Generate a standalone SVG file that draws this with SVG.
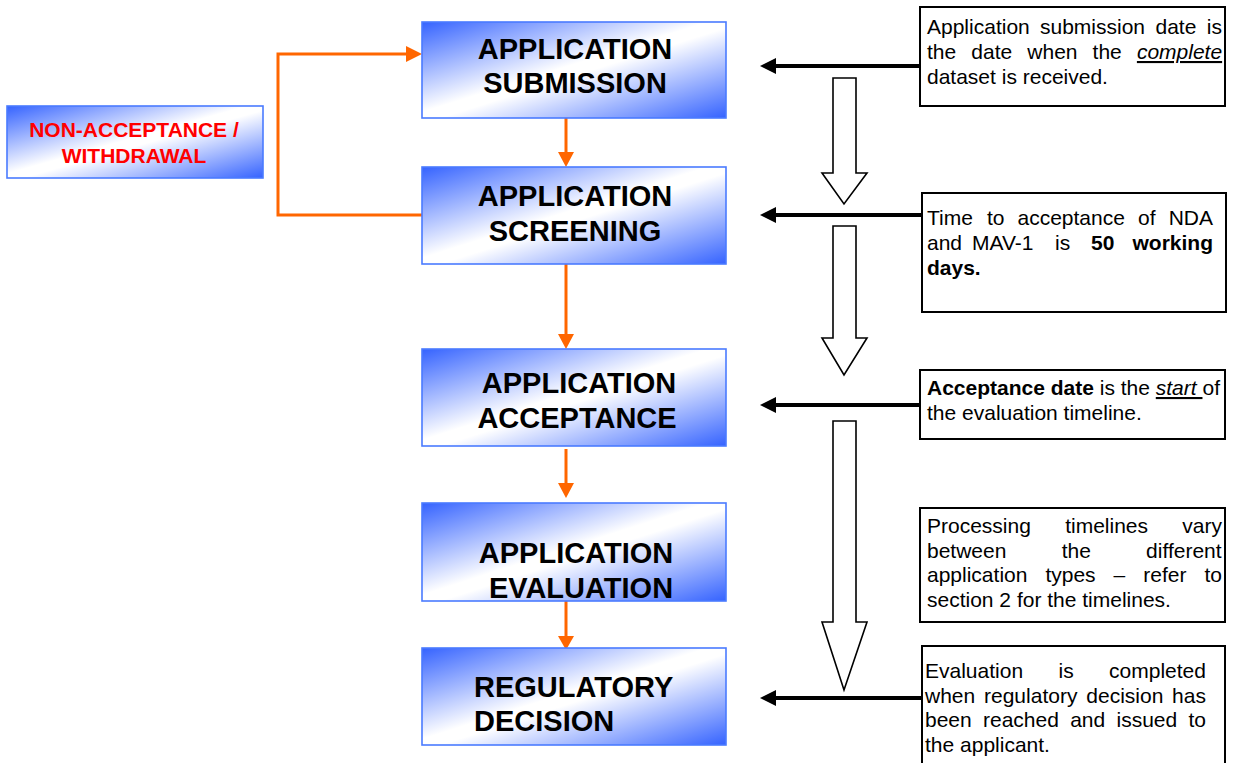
<svg xmlns="http://www.w3.org/2000/svg" width="1236" height="763" viewBox="0 0 1236 763">
<defs>
<linearGradient id="blueGrad" x1="0" y1="0" x2="1" y2="1">
<stop offset="0" stop-color="#3563ff"/>
<stop offset="0.47" stop-color="#ffffff"/>
<stop offset="0.53" stop-color="#ffffff"/>
<stop offset="1" stop-color="#3563ff"/>
</linearGradient>
</defs>
<style>
.step{fill:url(#blueGrad);stroke:#4a7bff;stroke-width:1.6}
.stepText{font-family:"Liberation Sans",Arial,sans-serif;font-weight:bold;font-size:29px;fill:#000}
.redText{font-family:"Liberation Sans",Arial,sans-serif;font-weight:bold;font-size:21px;fill:#ff0000}
.note{fill:#fff;stroke:#000;stroke-width:2}
.noteText{font-family:"Liberation Sans",Arial,sans-serif;font-size:21px;fill:#000}
.orange{fill:none;stroke:#ff6600;stroke-width:3}
.orangeHead{fill:#ff6600}
.black{fill:none;stroke:#000;stroke-width:4}
.blackHead{fill:#000}
.hollow{fill:#fff;stroke:#000;stroke-width:1.6;stroke-linejoin:miter}
</style>
<rect width="1236" height="763" fill="#fff"/>

<g id="connectors">
<path class="orange" d="M422,215 H278 V54 H408"/>
<polygon class="orangeHead" points="406,46 422,54 406,62"/>
<line class="orange" x1="566" y1="118" x2="566" y2="154"/>
<polygon class="orangeHead" points="558,152 574,152 566,167"/>
<line class="orange" x1="566" y1="264" x2="566" y2="336"/>
<polygon class="orangeHead" points="558,334 574,334 566,349"/>
<line class="orange" x1="566" y1="449" x2="566" y2="485"/>
<polygon class="orangeHead" points="558,483 574,483 566,498"/>
<line class="orange" x1="566" y1="601" x2="566" y2="638"/>
<polygon class="orangeHead" points="558,636 574,636 566,650"/>

<line class="black" x1="920" y1="66" x2="774" y2="66"/>
<polygon class="blackHead" points="760,66 776,58 776,74"/>
<line class="black" x1="922" y1="215" x2="774" y2="215"/>
<polygon class="blackHead" points="760,215 776,207 776,223"/>
<line class="black" x1="920" y1="405" x2="774" y2="405"/>
<polygon class="blackHead" points="760,405 776,397 776,413"/>
<line class="black" x1="922" y1="698" x2="774" y2="698"/>
<polygon class="blackHead" points="760,698 776,690 776,706"/>

<polygon class="hollow" points="833,78 856,78 856,173 867,173 844,204 822,173 833,173"/>
<polygon class="hollow" points="833,226 856,226 856,338 867,338 844,375 822,338 833,338"/>
<polygon class="hollow" points="833,421 856,421 856,622 867,622 844,690 822,622 833,622"/>
</g>

<g id="node-nonacceptance">
<rect class="step" x="7" y="106" width="256" height="72"/>
<text class="redText" x="134" y="137" text-anchor="middle">NON-ACCEPTANCE /</text>
<text class="redText" x="134" y="163" text-anchor="middle">WITHDRAWAL</text>
</g>

<g id="node-submission">
<rect class="step" x="422" y="22" width="304" height="96"/>
<text class="stepText" x="575" y="59" text-anchor="middle">APPLICATION</text>
<text class="stepText" x="575" y="93" text-anchor="middle">SUBMISSION</text>
</g>

<g id="node-screening">
<rect class="step" x="422" y="167" width="304" height="97"/>
<text class="stepText" x="575" y="206" text-anchor="middle">APPLICATION</text>
<text class="stepText" x="575" y="241" text-anchor="middle">SCREENING</text>
</g>

<g id="node-acceptance">
<rect class="step" x="422" y="349" width="304" height="97"/>
<text class="stepText" x="579" y="393" text-anchor="middle">APPLICATION</text>
<text class="stepText" x="577" y="428" text-anchor="middle">ACCEPTANCE</text>
</g>

<g id="node-evaluation">
<rect class="step" x="422" y="503" width="304" height="98"/>
<text class="stepText" x="576" y="563" text-anchor="middle">APPLICATION</text>
<text class="stepText" x="581" y="598" text-anchor="middle">EVALUATION</text>
</g>

<g id="node-decision">
<rect class="step" x="422" y="648" width="304" height="97"/>
<text class="stepText" x="474" y="697">REGULATORY</text>
<text class="stepText" x="474" y="731">DECISION</text>
</g>

<g id="note-submission">
<rect class="note" x="920" y="7" width="305" height="99"/>
<text class="noteText" y="34"><tspan x="927">Application</tspan><tspan x="1040">submission</tspan><tspan x="1155.5">date</tspan><tspan x="1206.8">is</tspan></text>
<text class="noteText" y="59"><tspan x="927">the</tspan><tspan x="971.3">date</tspan><tspan x="1027.3">when</tspan><tspan x="1092.6">the</tspan><tspan x="1136.9" font-style="italic" text-decoration="underline">complete</tspan></text>
<text class="noteText" x="927" y="84">dataset is received.</text>
</g>

<g id="note-screening">
<rect class="note" x="922" y="193" width="304" height="119"/>
<text class="noteText" y="225"><tspan x="927">Time</tspan><tspan x="986.9">to</tspan><tspan x="1017.5">acceptance</tspan><tspan x="1138">of</tspan><tspan x="1168.7">NDA</tspan></text>
<text class="noteText" y="250"><tspan x="927">and</tspan><tspan x="972">MAV-1</tspan><tspan x="1055">is</tspan><tspan x="1091" font-weight="bold">50</tspan><tspan x="1132.5" font-weight="bold">working</tspan></text>
<text class="noteText" x="927" y="275" font-weight="bold">days.</text>
</g>

<g id="note-acceptance">
<rect class="note" x="920" y="370" width="305" height="69"/>
<text class="noteText" x="927" y="395"><tspan font-weight="bold">Acceptance date</tspan> is the <tspan font-style="italic" text-decoration="underline">start </tspan>of</text>
<text class="noteText" x="927" y="420">the evaluation timeline.</text>
</g>

<g id="note-evaluation">
<rect class="note" x="920" y="508" width="305" height="114"/>
<text class="noteText" y="533"><tspan x="927">Processing</tspan><tspan x="1065.2">timelines</tspan><tspan x="1182.3">vary</tspan></text>
<text class="noteText" y="558"><tspan x="927">between</tspan><tspan x="1061.7">the</tspan><tspan x="1146.1">different</tspan></text>
<text class="noteText" y="582"><tspan x="927">application</tspan><tspan x="1045.4">types</tspan><tspan x="1113.6">–</tspan><tspan x="1143.3">refer</tspan><tspan x="1204.5">to</tspan></text>
<text class="noteText" x="927" y="607">section 2 for the timelines.</text>
</g>

<g id="note-decision">
<rect class="note" x="922" y="646" width="303" height="130"/>
<text class="noteText" y="678"><tspan x="925">Evaluation</tspan><tspan x="1058.5">is</tspan><tspan x="1109.1">completed</tspan></text>
<text class="noteText" y="703"><tspan x="925">when</tspan><tspan x="984">regulatory</tspan><tspan x="1086.3">decision</tspan><tspan x="1172.1">has</tspan></text>
<text class="noteText" y="727"><tspan x="925">been</tspan><tspan x="983">reached</tspan><tspan x="1070.2">and</tspan><tspan x="1116.5">issued</tspan><tspan x="1188.5">to</tspan></text>
<text class="noteText" x="925" y="752">the applicant.</text>
</g>
</svg>
